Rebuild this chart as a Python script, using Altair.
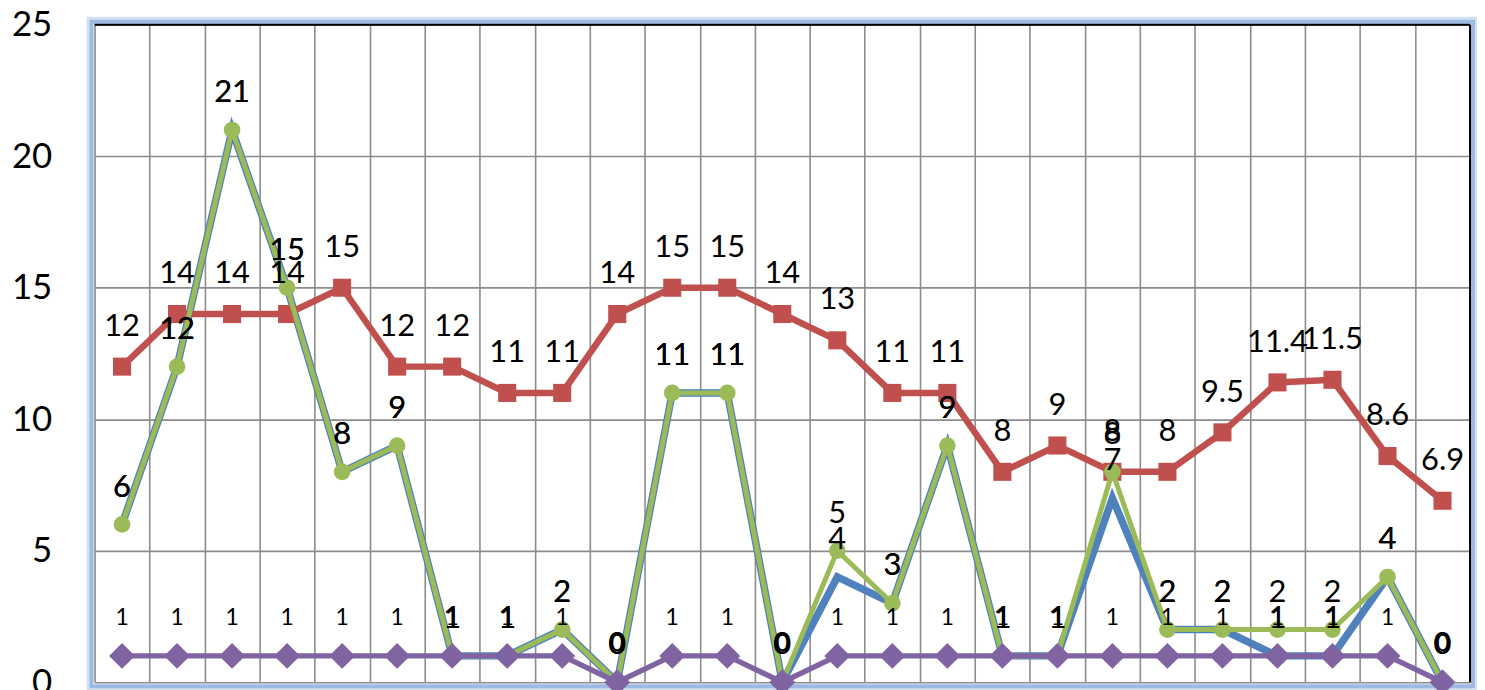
import altair as alt
import pandas as pd

categories = list(range(1, 26))
series1_blue = [6, 12, 21, 15, 8, 9, 1, 1, 2, 0, 11, 11, 0, 4, 3, 9, 1, 1, 7, 2, 2, 1, 1, 4, 0]
series2_red = [12, 14, 14, 14, 15, 12, 12, 11, 11, 14, 15, 15, 14, 13, 11, 11, 8, 9, 8, 8, 9.5, 11.4, 11.5, 8.6, 6.9]
series3_green = [6, 12, 21, 15, 8, 9, 1, 1, 2, 0, 11, 11, 0, 5, 3, 9, 1, 1, 8, 2, 2, 2, 2, 4, 0]
series4_purple = [1, 1, 1, 1, 1, 1, 1, 1, 1, 0, 1, 1, 0, 1, 1, 1, 1, 1, 1, 1, 1, 1, 1, 1, 0]
y_ticks = [0, 5, 10, 15, 20, 25]
x_bounds = [i + 0.5 for i in range(0, 26)]

W, H = 1383, 661
FONT = "Lato"
GRID = "#8C8C8C"


def frame(vals):
    return pd.DataFrame({"cat": categories, "value": vals,
                         "lab": ["{:g}".format(v) for v in vals]})


xenc = alt.X("cat:Q",
             scale=alt.Scale(domain=[0.5, 25.5], nice=False, zero=False),
             axis=alt.Axis(values=x_bounds, grid=True, labels=False, ticks=False,
                           domain=False, title=None, gridColor=GRID, gridWidth=1.6,
                           gridOpacity=1))
yenc = alt.Y("value:Q",
             scale=alt.Scale(domain=[0, 25], nice=False, zero=True),
             axis=alt.Axis(values=y_ticks, grid=True, ticks=False, domain=False,
                           title=None, labelFont=FONT, labelFontSize=35,
                           labelColor="black", labelPadding=43, gridColor=GRID,
                           gridWidth=1.6, gridOpacity=1))


def series(vals, color, lw, shape, size):
    base = alt.Chart(frame(vals)).encode(x=xenc, y=yenc)
    layers = [base.mark_line(color=color, strokeWidth=lw)]
    if shape:
        layers.append(base.mark_point(shape=shape, filled=True, color=color,
                                      size=size, opacity=1))
    return layers


def labels(vals, dy, size):
    return alt.Chart(frame(vals)).mark_text(
        font=FONT, fontSize=size, color="black", dy=dy, baseline="middle",
        align="center").encode(x=xenc, y=yenc, text="lab:N")


one = pd.DataFrame({"a": [0]})
glow_outer = alt.Chart(one).mark_rect(fillOpacity=0, stroke="#D3E0F1",
                                      strokeWidth=4).encode(
    x=alt.value(-6), x2=alt.value(W + 6), y=alt.value(-6), y2=alt.value(H + 6))
glow = alt.Chart(one).mark_rect(fillOpacity=0, stroke="#9DBBE2",
                                strokeWidth=4).encode(
    x=alt.value(-3), x2=alt.value(W + 3), y=alt.value(-3), y2=alt.value(H + 4))
top_rule = alt.Chart(one).mark_rule(color="black", strokeWidth=2).encode(
    x=alt.value(0), x2=alt.value(W), y=alt.value(0))
right_rule = alt.Chart(one).mark_rule(color="black", strokeWidth=2).encode(
    x=alt.value(W), y=alt.value(0), y2=alt.value(H))

layers = [glow_outer, glow]
layers += series(series1_blue, "#4F81BD", 7.5, None, 0)
layers += series(series2_red, "#C0504D", 6.5, "square", 330)
layers += series(series3_green, "#9BBB59", 5, "circle", 280)
layers += series(series4_purple, "#8064A2", 5.5, "diamond", 680)
layers += [top_rule, right_rule]
layers += [labels(series1_blue, -37, 31),
           labels(series2_red, -40, 31),
           labels(series3_green, -37, 31),
           labels(series4_purple, -38, 23)]

chart = alt.layer(*layers).properties(
    width=W, height=H,
    autosize=alt.AutoSizeParams(type="none"),
    padding={"left": 87, "top": 15, "right": 7, "bottom": 6},
).configure_view(stroke=None).configure(background="white")

chart.save("out.html", embed_options={"renderer": "svg", "actions": False})
